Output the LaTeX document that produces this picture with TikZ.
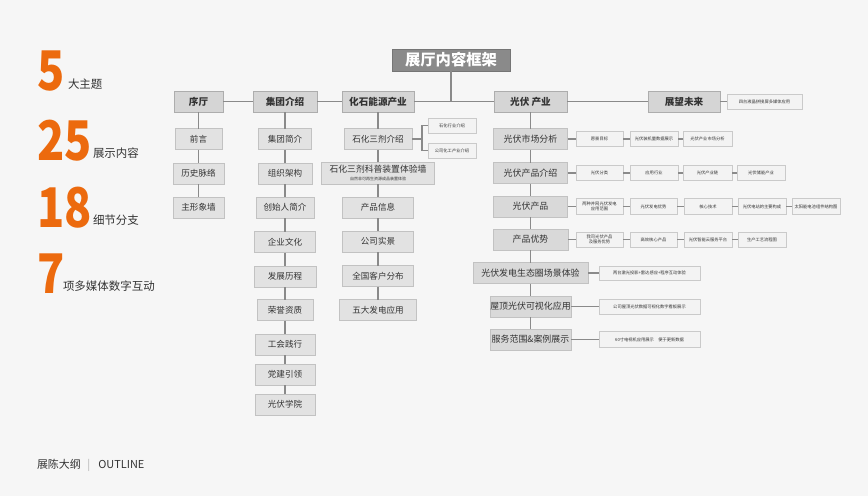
\documentclass[tikz,border=0pt]{standalone}
\usepackage{fontspec}
\setmainfont{Noto Sans CJK SC}
\definecolor{bgcol}{HTML}{F6F6F6}
\definecolor{accent}{HTML}{EC6A0E}
\definecolor{titlefill}{HTML}{8A8A8A}
\definecolor{headfill}{HTML}{D5D5D5}
\definecolor{headline}{HTML}{ADADAD}
\definecolor{itemfill}{HTML}{E2E2E2}
\definecolor{itemline}{HTML}{C2C2C2}
\definecolor{notefill}{HTML}{F3F3F3}
\definecolor{noteline}{HTML}{CACACA}
\definecolor{linkcol}{HTML}{8A8A8A}
\definecolor{inkcol}{HTML}{333333}

\begin{document}
\begin{tikzpicture}[x=0.75pt,y=-0.75pt,
    every node/.style={inner sep=0pt, outer sep=0pt, text=inkcol},
    bw/.style={minimum width=#1*0.75pt},
    bh/.style={minimum height=#1*0.75pt},
    titlebox/.style={fill=titlefill, draw=titlefill!85!black, line width=.6pt, bh=22, text=white, font=\bfseries\fontsize{11.5}{12}\selectfont},
    headbox/.style={fill=headfill, draw=headline, line width=.7pt, bh=21, font=\bfseries\fontsize{7.2}{8}\selectfont},
    itembox/.style={fill=itemfill, draw=itemline, line width=.7pt, bh=21, font=\fontsize{6.4}{7.5}\selectfont},
    pvbox/.style={itembox, fill=headfill!70!itemfill, font=\fontsize{6.7}{8}\selectfont},
    notebox/.style={fill=notefill, draw=noteline, line width=.5pt, bh=15, align=center, font=\fontsize{3.2}{4.3}\selectfont},
    bignum/.style={anchor=base west, text=accent, font=\bfseries\fontsize{41}{41}\selectfont},
    numlabel/.style={anchor=base west, font=\fontsize{8.6}{10}\selectfont},
    link/.style={draw=linkcol, line width=1.1pt},
    sublink/.style={draw=linkcol, line width=.9pt}]
    \fill[bgcol] (0,0) rectangle (868,496);
    \useasboundingbox (0,0) rectangle (868,496);

    % numbers on the left
    \node[bignum] (numA) at (37,90) {\scalebox{0.82}[1]{5}};
    \node[numlabel] (labA) at (68,88) {大主题};
    \node[bignum] (numB) at (37,160) {\scalebox{0.82}[1]{25}};
    \node[numlabel] (labB) at (93,157) {展示内容};
    \node[bignum] (numC) at (37,227) {\scalebox{0.82}[1]{18}};
    \node[numlabel] (labC) at (93,224) {细节分支};
    \node[bignum] (numD) at (37,293) {\scalebox{0.82}[1]{7}};
    \node[numlabel] (labD) at (63,290) {项多媒体数字互动};
    \node[anchor=base west, font=\fontsize{8.2}{10}\selectfont] (outline) at (37,468) {展陈大纲\hspace{5pt}{\color{black!30}|}\hspace{6pt}OUTLINE};

    % title and main themes
    \node[titlebox, bw=118] (frame) at (451,60) {展厅内容框架};
    \node[headbox, bw=49] (xuting) at (198.5,101.5) {序厅};
    \node[headbox, bw=64] (jituan) at (285,101.5) {集团介绍};
    \node[headbox, bw=72] (huashi) at (378,101.5) {化石能源产业};
    \node[headbox, bw=73] (guangfu) at (530.5,101.5) {光伏 产业};
    \node[headbox, bw=72] (zhanwang) at (684,101.5) {展望未来};
    \node[notebox, bw=75] (zwA) at (764.5,101.5) {四台液晶拼接屏多媒体应用};

    \draw[link] (frame.south) -- (frame.south |- huashi.east);
    \draw[link] (xuting) -- (jituan);
    \draw[link] (jituan) -- (huashi);
    \draw[link] (huashi) -- (guangfu);
    \draw[link] (guangfu) -- (zhanwang);
    \draw[sublink] (zhanwang) -- (zwA);

    % 序厅
    \node[itembox, bw=47] (qianyan) at (198.5,139) {前言};
    \node[itembox, bw=51] (lishi) at (198.5,173.5) {历史脉络};
    \node[itembox, bw=51] (xxq) at (198.5,207.5) {主形象墙};
    \draw[link] (xuting) -- (qianyan) -- (lishi) -- (xxq);

    % 集团介绍
    \node[itembox, bw=53] (jtjj) at (285,139) {集团简介};
    \node[itembox, bw=54] (zzjg) at (285,173.5) {组织架构};
    \node[itembox, bw=58] (csr) at (285,207.5) {创始人简介};
    \node[itembox, bw=61] (qywh) at (285,242) {企业文化};
    \node[itembox, bw=62] (fzlc) at (285,276.5) {发展历程};
    \node[itembox, bw=56] (rych) at (285,310) {荣誉资质};
    \node[itembox, bw=60] (ghjx) at (285,344.5) {工会践行};
    \node[itembox, bw=60] (djyl) at (285,374.5) {党建引领};
    \node[itembox, bw=60] (gfxy) at (285,404.5) {光伏学院};
    \draw[link] (jituan) -- (jtjj) -- (zzjg) -- (csr) -- (qywh) -- (fzlc) -- (rych) -- (ghjx) -- (djyl) -- (gfxy);

    % 化石能源产业
    \node[itembox, bw=68] (shsj) at (378,139) {石化三剂介绍};
    \node[itembox, bw=113, bh=22, align=center] (kepu) at (378,173) {{\fontsize{6.6}{7.2}\selectfont 石化三剂科普装置体验墙}\\[-1pt]{\fontsize{3}{3.5}\selectfont 自然非可再生资源成品装置体验}};
    \node[itembox, bw=71] (cpxx) at (378,207.5) {产品信息};
    \node[itembox, bw=71] (gssj) at (378,241.5) {公司实景};
    \node[itembox, bw=71] (khfb) at (378,276) {全国客户分布};
    \node[itembox, bw=77] (wdfd) at (378,310) {五大发电应用};
    \draw[link] (huashi) -- (shsj) -- (kepu) -- (cpxx) -- (gssj) -- (khfb) -- (wdfd);
    \node[notebox, bw=48] (shhy) at (452,125.5) {石化行业介绍};
    \node[notebox, bw=48] (gshg) at (452,150.5) {公司化工产业介绍};
    \coordinate (shfork) at (422,139);
    \draw[sublink] (shsj.east) -- (shfork);
    \draw[sublink] (shhy.west) -| (shfork) |- (gshg.west);

    % 光伏 产业
    \node[pvbox, bw=74] (scfx) at (530.5,139) {光伏市场分析};
    \node[pvbox, bw=74] (cpjs) at (530.5,173) {光伏产品介绍};
    \node[pvbox, bw=74] (gfcp) at (530.5,206.5) {光伏产品};
    \node[pvbox, bw=75] (cpys) at (530.5,239.5) {产品优势};
    \node[pvbox, bw=115] (stq) at (530.5,273) {光伏发电生态圈场景体验};
    \node[pvbox, bw=81] (wdsh) at (530.5,306.5) {屋顶光伏可视化应用};
    \node[pvbox, bw=81] (fwfw) at (530.5,339.5) {服务范围\&案例展示};
    \draw[link] (guangfu) -- (scfx) -- (cpjs) -- (gfcp) -- (cpys) -- (stq) -- (wdsh) -- (fwfw);

    \node[notebox, bw=47] (scA) at (599.5,139) {愿景目标};
    \node[notebox, bw=48] (scB) at (654,139) {光伏装机量数据展示};
    \node[notebox, bw=49] (scC) at (707.5,139) {光伏产业市场分析};
    \draw[sublink] (scfx) -- (scA) -- (scB) -- (scC);

    \node[notebox, bw=47] (jsA) at (599.5,173) {光伏分类};
    \node[notebox, bw=48] (jsB) at (654,173) {应用行业};
    \node[notebox, bw=49] (jsC) at (707.5,173) {光伏产业链};
    \node[notebox, bw=48] (jsD) at (761,173) {光伏储能产业};
    \draw[sublink] (cpjs) -- (jsA) -- (jsB) -- (jsC) -- (jsD);

    \node[notebox, bw=47, bh=16] (cpA) at (599.5,206.5) {两种并网光伏发电\\应用范围};
    \node[notebox, bw=47, bh=16] (cpB) at (653.5,206.5) {光伏发电优势};
    \node[notebox, bw=48, bh=16] (cpC) at (708,206.5) {核心技术};
    \node[notebox, bw=48, bh=16] (cpD) at (762,206.5) {光伏电站的主要构成};
    \node[notebox, bw=48, bh=16] (cpE) at (816,206.5) {太阳能电池组件结构图};
    \draw[sublink] (gfcp) -- (cpA) -- (cpB) -- (cpC) -- (cpD) -- (cpE);

    \node[notebox, bw=47] (ysA) at (599.5,239.5) {我司光伏产品\\及服务优势};
    \node[notebox, bw=47] (ysB) at (653.5,239.5) {高效核心产品};
    \node[notebox, bw=48] (ysC) at (708,239.5) {光伏智能云服务平台};
    \node[notebox, bw=48] (ysD) at (762,239.5) {生产工艺流程图};
    \draw[sublink] (cpys) -- (ysA) -- (ysB) -- (ysC) -- (ysD);

    \node[notebox, bw=101, bh=14] (stqA) at (649.5,273) {两台激光投影+雷达感应+程序互动体验};
    \draw[sublink] (stq) -- (stqA);
    \node[notebox, bw=101] (wdshA) at (649.5,306.5) {公司屋顶光伏数据可视化数字看板展示};
    \draw[sublink] (wdsh) -- (wdshA);
    \node[notebox, bw=101, bh=16] (fwfwA) at (649.5,339.5) {60寸电视机应用展示\quad 便于更新数据};
    \draw[sublink] (fwfw) -- (fwfwA);
\end{tikzpicture}
\end{document}
